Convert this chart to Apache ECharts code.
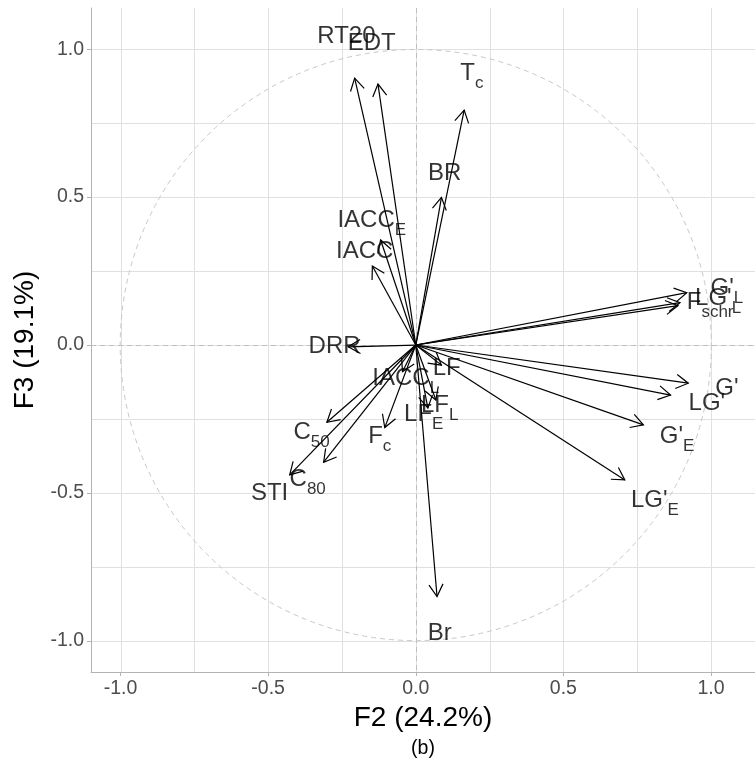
<!DOCTYPE html>
<html><head><meta charset="utf-8">
<script src="https://cdn.jsdelivr.net/npm/echarts@6/dist/echarts.min.js"></script>
<style>html,body{margin:0;padding:0;background:#fff}#c{width:755px;height:765px}</style>
</head><body><div id="c"></div>
<script>
// ---- data ----
const varNames = ["RT20","EDT","T_c","BR","IACC_E","IACC","DRR","IACC_L","LF","LF_L","LF_E","F_c","C_50","C_80","STI","Br","LG'_E","G'_E","LG'","G'","G'_L","LG'_L","F_schr"];
const f2 = [-0.207,-0.128,0.164,0.087,-0.119,-0.147,-0.229,-0.045,0.087,0.068,0.041,-0.105,-0.301,-0.312,-0.427,0.072,0.708,0.771,0.863,0.923,0.918,0.895,0.888];
const f3 = [0.902,0.882,0.794,0.499,0.355,0.267,-0.006,-0.090,-0.068,-0.186,-0.213,-0.279,-0.261,-0.396,-0.439,-0.850,-0.456,-0.270,-0.169,-0.129,0.177,0.143,0.133];
const labelF2 = [-0.235,-0.149,0.19,0.098,-0.149,-0.173,-0.275,-0.034,0.105,0.081,0.027,-0.122,-0.353,-0.366,-0.495,0.081,0.810,0.885,0.986,1.054,1.054,1.024,0.997];
const labelF3 = [1.037,1.014,0.912,0.574,0.416,0.311,-0.010,-0.118,-0.084,-0.209,-0.240,-0.314,-0.301,-0.459,-0.507,-0.980,-0.530,-0.314,-0.203,-0.152,0.186,0.152,0.139];
const tickValues = [-1, -0.5, 0, 0.5, 1];
const minorValues = [-0.75, -0.25, 0.25, 0.75];
const xTitle = 'F2 (24.2%)';
const yTitle = 'F3 (19.1%)';
const caption = '(b)';

const FONT = '"Liberation Sans", Arial, Helvetica, sans-serif';
function toRich(name){
  const i = name.indexOf('_');
  if (i < 0) return '{m|' + name + '}';
  return '{m|' + name.slice(0, i) + '}{s|' + name.slice(i + 1) + '}';
}

const gridData = [];
tickValues.concat(minorValues).forEach(v => { gridData.push([v, 0]); gridData.push([v, 1]); });

const chart = echarts.init(document.getElementById('c'), null, {renderer: 'canvas'});
chart.setOption({
  animation: false,
  backgroundColor: '#ffffff',
  textStyle: {fontFamily: FONT},
  grid: {left: 91, right: 0, top: 8, bottom: 93, containLabel: false},
  xAxis: {
    type: 'value', min: -1.1, max: 1.149,
    axisLine: {show: true, onZero: false, lineStyle: {color: '#b3b3b3', width: 1}},
    axisTick: {show: true, customValues: tickValues, length: 4, lineStyle: {color: '#b3b3b3'}},
    axisLabel: {customValues: tickValues, formatter: v => v.toFixed(1), color: '#4d4d4d', fontSize: 19.5, margin: 7, fontFamily: FONT},
    splitLine: {show: false},
    name: xTitle, nameLocation: 'middle', nameGap: 30,
    nameTextStyle: {fontSize: 28, color: '#000', fontFamily: FONT}
  },
  yAxis: {
    type: 'value', min: -1.105, max: 1.139,
    axisLine: {show: true, onZero: false, lineStyle: {color: '#b3b3b3', width: 1}},
    axisTick: {show: true, customValues: tickValues, length: 4, lineStyle: {color: '#b3b3b3'}},
    axisLabel: {customValues: tickValues, formatter: v => v.toFixed(1), color: '#4d4d4d', fontSize: 19.5, margin: 7, fontFamily: FONT},
    splitLine: {show: false},
    name: yTitle, nameLocation: 'middle', nameGap: 46,
    nameTextStyle: {fontSize: 28, color: '#000', fontFamily: FONT}
  },
  graphic: [{
    type: 'text', x: 423, y: 749,
    style: {text: caption, align: 'center', verticalAlign: 'middle', fontSize: 19.5, fill: '#000', fontFamily: FONT}
  }],
  series: [
    { // grid lines
      type: 'custom', z: 0, silent: true, data: gridData,
      renderItem(params, api) {
        const cs = params.coordSys;
        const v = api.value(0);
        if (api.value(1) === 0) {
          const x = Math.round(api.coord([v, 0])[0]) + 0.5;
          return {type: 'line', shape: {x1: x, y1: cs.y, x2: x, y2: cs.y + cs.height}, style: {stroke: '#e0e0e0', lineWidth: 1}};
        }
        const y = Math.round(api.coord([0, v])[1]) + 0.5;
        return {type: 'line', shape: {x1: cs.x, y1: y, x2: cs.x + cs.width, y2: y}, style: {stroke: '#e0e0e0', lineWidth: 1}};
      }
    },
    { // dashed reference lines and unit circle
      type: 'custom', z: 1, silent: true, data: [[0, 0]],
      renderItem(params, api) {
        const cs = params.coordSys;
        const o = api.coord([api.value(0), api.value(1)]);
        const r = api.size([1, 1]);
        const dash = [5, 4];
        return {type: 'group', children: [
          {type: 'line', shape: {x1: Math.round(o[0]) + 0.5, y1: cs.y, x2: Math.round(o[0]) + 0.5, y2: cs.y + cs.height}, style: {stroke: '#bdbdbd', lineWidth: 1, lineDash: dash}},
          {type: 'line', shape: {x1: cs.x, y1: Math.round(o[1]) + 0.5, x2: cs.x + cs.width, y2: Math.round(o[1]) + 0.5}, style: {stroke: '#bdbdbd', lineWidth: 1, lineDash: dash}},
          {type: 'circle', shape: {cx: o[0], cy: o[1], r: (r[0] + r[1]) / 2}, style: {stroke: '#c8c8c8', fill: null, lineWidth: 1, lineDash: dash}}
        ]};
      }
    },
    { // arrows
      type: 'custom', z: 3, silent: true,
      data: f2.map((x, i) => [x, f3[i]]),
      renderItem(params, api) {
        const p0 = api.coord([0, 0]);
        const p1 = api.coord([api.value(0), api.value(1)]);
        const dx = p1[0] - p0[0], dy = p1[1] - p0[1];
        const L = Math.hypot(dx, dy) || 1;
        const ux = dx / L, uy = dy / L;
        const len = 14, a = Math.PI / 6, c = Math.cos(a), s = Math.sin(a);
        const w1 = [p1[0] + len * (-ux * c + uy * s), p1[1] + len * (-ux * s - uy * c)];
        const w2 = [p1[0] + len * (-ux * c - uy * s), p1[1] + len * (ux * s - uy * c)];
        return {type: 'group', children: [
          {type: 'line', shape: {x1: p0[0], y1: p0[1], x2: p1[0], y2: p1[1]}, style: {stroke: '#000', lineWidth: 1.2}},
          {type: 'polyline', shape: {points: [w1, p1, w2]}, style: {stroke: '#000', fill: null, lineWidth: 1.2}}
        ]};
      }
    },
    { // labels
      type: 'scatter', z: 4, silent: true, symbolSize: 0,
      data: labelF2.map((x, i) => [x, labelF3[i], varNames[i]]),
      label: {
        show: true, position: 'inside', color: '#000',
        formatter: p => toRich(p.value[2]),
        rich: {
          m: {fontSize: 24, lineHeight: 27, verticalAlign: 'top', color: '#000', fontFamily: FONT},
          s: {fontSize: 17, lineHeight: 17, padding: [13, 0, 0, 0], verticalAlign: 'top', color: '#000', fontFamily: FONT}
        }
      }
    }
  ]
});
</script>
</body></html>
